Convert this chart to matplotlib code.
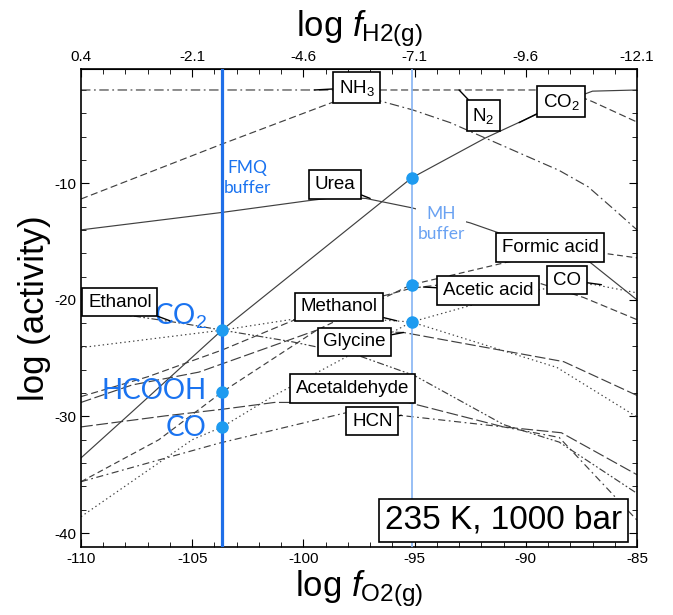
import numpy as np
import matplotlib.pyplot as plt
from matplotlib.ticker import MultipleLocator, FixedLocator

plt.rcParams['font.family'] = ['Liberation Sans', 'DejaVu Sans']
plt.rcParams['mathtext.fontset'] = 'custom'
plt.rcParams['mathtext.rm'] = 'Liberation Sans'
plt.rcParams['mathtext.it'] = 'Liberation Sans:italic'
plt.rcParams['axes.unicode_minus'] = False

""" datos leidos de la figura (log fO2, log actividad) """
fmq = -103.65
mh = -95.1

nh3_x = [-110, -98.0, -97.2, -95.1, -93.4, -88.5, -87.2, -86.0, -85]
nh3_y = [-2.0, -2.0, -2.6, -3.7, -4.8, -8.9, -10.3, -12.3, -14.0]

n2_x = [-110, -103.65, -98.65, -97.5, -96.8, -88.3, -87.0, -85]
n2_y = [-11.35, -6.63, -3.03, -2.2, -2.0, -2.0, -3.0, -4.75]

co2_x = [-110, -107.7, -103.65, -95.14, -91.8, -90.1, -88.4, -87.0, -85]
co2_y = [-33.56, -29.6, -22.58, -9.55, -6.1, -4.6, -3.1, -2.1, -2.0]

urea_x = [-110, -103.65, -99.8, -98.5, -97.2, -95.14, -92.5, -91.3, -87.1, -85]
urea_y = [-14.0, -12.5, -11.5, -11.2, -11.3, -12.1, -13.4, -14.2, -16.8, -20.0]

formic_x = [-110, -106.5, -103.65, -99.4, -95.14, -90.8, -88.5, -86.9, -85]
formic_y = [-35.6, -32.0, -27.9, -22.6, -18.7, -16.75, -16.0, -15.9, -16.4]

co_x = [-110, -105.0, -103.65, -101.4, -95.14, -92.4, -89.8, -88.0, -86.9, -85]
co_y = [-38.6, -32.0, -30.9, -28.3, -21.9, -20.44, -19.3, -18.6, -18.7, -19.4]

acetic_x = [-110, -107.0, -103.65, -100.5, -95.14, -92.0, -89.5, -87.4, -85]
acetic_y = [-28.3, -26.6, -24.3, -21.8, -19.0, -18.3, -18.5, -19.8, -21.7]

methanol_x = [-110, -104.5, -103.65, -100.6, -97.5, -95.14, -88.6, -85]
methanol_y = [-24.1, -22.8, -22.6, -21.7, -21.6, -21.9, -25.8, -30.05]

glycine_x = [-110, -107.7, -104.7, -99.4, -95.5, -88.3, -85]
glycine_y = [-28.8, -27.3, -26.2, -22.6, -22.8, -25.3, -28.2]

ethanol_x = [-110, -107.6, -105.5, -103.65, -100.5, -97.5, -95.0, -91.0, -88.5, -85]
ethanol_y = [-21.0, -21.4, -22.0, -22.6, -23.6, -24.8, -26.5, -30.7, -32.2, -36.6]

acetald_x = [-110, -106.2, -103.7, -101.3, -95.3, -91.0, -88.4, -85]
acetald_y = [-30.9, -29.95, -29.4, -28.8, -28.8, -30.9, -31.4, -35.0]

hcn_x = [-110, -103.8, -97.9, -95.7, -91.0, -88.5, -85]
hcn_y = [-35.6, -32.3, -29.6, -29.9, -30.9, -31.8, -38.9]

fmq_pts = [-22.58, -27.9, -30.9]
mh_pts = [-9.55, -18.7, -21.9]

""" graficar """
fig = plt.figure(figsize=(6.73, 6.15), dpi=100)
ax = fig.add_axes([81/673, 1-547/615, 556/673, 478/615])
ax.set_xlim(-110, -85)
ax.set_ylim(-41.2, -0.2)

k = dict(color='#404040', lw=0.85)
ax.plot(nh3_x, nh3_y, ls=(0, (8, 3, 1.5, 3)), **k)
ax.plot(n2_x, n2_y, ls=(0, (6, 3)), **k)
ax.plot(co2_x, co2_y, ls='-', **k)
ax.plot(urea_x, urea_y, ls='-', **k)
ax.plot(formic_x, formic_y, ls=(0, (5, 3)), **k)
ax.plot(co_x, co_y, ls=(0, (1.2, 2.5)), **k)
ax.plot(acetic_x, acetic_y, ls=(0, (6, 3)), **k)
ax.plot(methanol_x, methanol_y, ls=(0, (1.2, 2.5)), **k)
ax.plot(glycine_x, glycine_y, ls=(0, (9, 3)), **k)
ax.plot(ethanol_x, ethanol_y, ls=(0, (6, 2, 1.5, 2, 1.5, 2)), **k)
ax.plot(acetald_x, acetald_y, ls=(0, (10, 3)), **k)
ax.plot(hcn_x, hcn_y, ls=(0, (6, 3, 1.5, 3)), **k)

ax.axvline(fmq, color='#1f6fe8', lw=2.3, zorder=3)
ax.axvline(mh, color='#86b4f4', lw=1.2, zorder=3)
ax.plot([fmq]*3, fmq_pts, 'o', color='#1e9bf0', ms=8, zorder=4)
ax.plot([mh]*3, mh_pts, 'o', color='#1e9bf0', ms=8, zorder=4)

azul = '#1a73f0'
fb = ['Lato', 'DejaVu Sans']
ax.text(-102.5, -9.55, 'FMQ\nbuffer', color=azul, fontsize=12.5, family=fb,
        ha='center', va='center', linespacing=1.35)
ax.text(-93.8, -13.5, 'MH\nbuffer', color='#6aa2f2', fontsize=12.5, family=fb,
        ha='center', va='center', linespacing=1.35,
        bbox=dict(fc='white', ec='none', pad=1))
ax.text(-104.35, -21.4, 'CO$_2$', color=azul, fontsize=20, family=fb, ha='right', va='center')
ax.text(-104.35, -27.8, 'HCOOH', color=azul, fontsize=20, family=fb, ha='right', va='center')
ax.text(-104.35, -31.0, 'CO', color=azul, fontsize=20, family=fb, ha='right', va='center')

caja = dict(boxstyle='square,pad=0.3', fc='white', ec='black', lw=1.2)
lead = dict(arrowstyle='-', color='black', lw=1.0, shrinkA=0, shrinkB=0)
def etiqueta(txt, xy, xytext):
    ax.annotate(txt, xy=xy, xytext=xytext, fontsize=13.5, ha='center', va='center',
                bbox=caja, arrowprops=lead, zorder=6)

etiqueta('NH$_3$', (-99.5, -2.0), (-97.6, -1.8))
etiqueta('N$_2$', (-93.0, -2.0), (-91.9, -4.2))
etiqueta('CO$_2$', (-90.3, -4.8), (-88.4, -3.0))
etiqueta('Urea', (-97.0, -11.3), (-98.6, -10.1))
etiqueta('Formic acid', (-86.5, -15.9), (-88.9, -15.5))
etiqueta('CO', (-86.6, -18.7), (-88.15, -18.3))
etiqueta('Acetic acid', (-94.6, -18.9), (-91.7, -19.2))
etiqueta('Ethanol', (-106.0, -21.8), (-108.25, -20.2))
etiqueta('Methanol', (-95.8, -21.8), (-98.4, -20.6))
etiqueta('Glycine', (-95.5, -22.8), (-97.7, -23.6))
etiqueta('Acetaldehyde', (-95.3, -28.8), (-97.8, -27.6))
etiqueta('HCN', (-95.6, -29.9), (-96.9, -30.4))

ax.text(-91.0, -38.9, '235 K, 1000 bar', fontsize=24, ha='center', va='center',
        bbox=dict(boxstyle='square,pad=0.18', fc='white', ec='black', lw=1.2), zorder=7)

ax.xaxis.set_major_locator(MultipleLocator(5))
ax.xaxis.set_minor_locator(MultipleLocator(1))
ax.yaxis.set_major_locator(MultipleLocator(10))
ax.yaxis.set_minor_locator(MultipleLocator(2))
ax.tick_params(which='both', direction='in', right=True, top=False, labelsize=11)
ax.tick_params(which='major', length=6)
ax.tick_params(which='minor', length=3.5)
for s in ax.spines.values():
    s.set_linewidth(1.2)

sec = ax.secondary_xaxis('top', functions=(lambda x: -0.5*x - 54.6, lambda h: -2*h - 109.2))
sec.xaxis.set_major_locator(FixedLocator([0.4, -2.1, -4.6, -7.1, -9.6, -12.1]))
sec.xaxis.set_minor_locator(FixedLocator(np.arange(0.4, -12.2, -0.5)))
sec.set_xticklabels(['0.4', '-2.1', '-4.6', '-7.1', '-9.6', '-12.1'])
sec.tick_params(which='both', direction='in', labelsize=11)
sec.tick_params(which='major', length=6)
sec.tick_params(which='minor', length=3.5)

ax.set_xlabel(r'log $\mathit{f}_{\mathrm{O2(g)}}$', fontsize=25, labelpad=2)
sec.set_xlabel(r'log $\mathit{f}_{\mathrm{H2(g)}}$', fontsize=25, labelpad=10)
ax.set_ylabel('log (activity)', fontsize=25, labelpad=2)

plt.savefig('out.png', dpi=100)
